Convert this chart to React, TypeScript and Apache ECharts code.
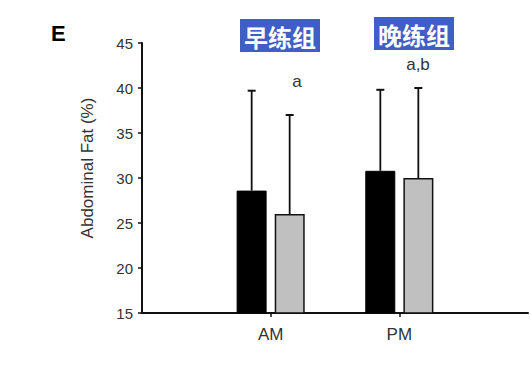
import React, { useEffect, useRef } from "react";
import * as echarts from "echarts";

const categories = ["AM", "PM"];
const amGroupMeans = [28.6, 30.8]; // black bars
const pmGroupMeans = [26.0, 30.0]; // gray bars
const amGroupErr = [11.1, 9.0];
const pmGroupErr = [11.0, 10.0];
const yTicks = [15, 20, 25, 30, 35, 40, 45];
const sigLabels = ["a", "a,b"];

const FONT = "'Liberation Sans', Arial, sans-serif";

export default function App() {
  const ref = useRef<HTMLDivElement>(null);
  useEffect(() => {
    if (!ref.current) return;
    const chart = echarts.init(ref.current, undefined, { renderer: "svg" });
    const axisCats = ["", ...categories, ""];
    const pad = (arr: number[]) => ["-", ...arr, "-"];
    const OFFSET = 19;
    const errSeries = (means: number[], errs: number[], dx: number) => ({
      type: "custom",
      z: 5,
      data: means.map((m, i) => [i + 1, m, m + errs[i]]),
      renderItem: (params: any, api: any) => {
        const x = api.value(0);
        const lo = api.coord([x, api.value(1)]);
        const hi = api.coord([x, api.value(2)]);
        const cx = lo[0] + dx;
        return {
          type: "group",
          children: [
            { type: "line", shape: { x1: cx, y1: lo[1], x2: cx, y2: hi[1] }, style: { stroke: "#111", lineWidth: 1.8 } },
            { type: "line", shape: { x1: cx - 4, y1: hi[1], x2: cx + 4, y2: hi[1] }, style: { stroke: "#111", lineWidth: 2 } },
          ],
        };
      },
    });
    chart.setOption({
      animation: false,
      backgroundColor: "#fff",
      grid: { left: 142, right: 0, top: 43, bottom: 52, containLabel: false },
      xAxis: {
        type: "category",
        data: axisCats,
        boundaryGap: false,
        axisLine: { lineStyle: { color: "#111", width: 2 } },
        axisTick: { length: 4, interval: (i: number) => i === 1 || i === 2, lineStyle: { color: "#111", width: 1.5 } },
        axisLabel: { interval: 0, margin: 13, fontSize: 17, color: "#333", fontFamily: FONT },
        splitLine: { show: false },
      },
      yAxis: {
        type: "value",
        min: yTicks[0],
        max: yTicks[yTicks.length - 1],
        interval: 5,
        axisLine: { show: true, lineStyle: { color: "#111", width: 2 } },
        axisTick: { show: true, length: 4, lineStyle: { color: "#111", width: 1.5 } },
        axisLabel: { margin: 9, fontSize: 15, color: "#333", fontFamily: FONT },
        splitLine: { show: false },
      },
      series: [
        {
          type: "bar",
          data: pad(amGroupMeans),
          barWidth: 30,
          barGap: "27%",
          itemStyle: { color: "#000", borderColor: "#000", borderWidth: 1 },
          z: 3,
        },
        {
          type: "bar",
          data: pad(pmGroupMeans),
          barWidth: 30,
          itemStyle: { color: "#c0c0c0", borderColor: "#111", borderWidth: 1.5 },
          z: 3,
        },
        errSeries(amGroupMeans, amGroupErr, -OFFSET),
        errSeries(pmGroupMeans, pmGroupErr, OFFSET),
      ],
      graphic: [
        { type: "text", left: 51, top: 22, style: { text: "E", fontSize: 22, fontWeight: "bold", fill: "#000", fontFamily: FONT } },
        {
          type: "text",
          x: 87,
          y: 168,
          rotation: Math.PI / 2,
          style: { text: "Abdominal Fat (%)", fontSize: 17, fill: "#333", fontFamily: FONT, align: "center", verticalAlign: "middle" },
        },
        { type: "rect", shape: { x: 240, y: 19, width: 80, height: 33 }, style: { fill: "#3f5ec6" } },
        { type: "text", x: 280, y: 36, style: { text: "早练组", fontSize: 24, fontWeight: "bold", fill: "#fff", fontFamily: "'Noto Sans CJK SC', sans-serif", align: "center", verticalAlign: "middle" } },
        { type: "rect", shape: { x: 374, y: 17, width: 80, height: 33 }, style: { fill: "#3f5ec6" } },
        { type: "text", x: 414, y: 34, style: { text: "晚练组", fontSize: 24, fontWeight: "bold", fill: "#fff", fontFamily: "'Noto Sans CJK SC', sans-serif", align: "center", verticalAlign: "middle" } },
        { type: "text", x: 297, y: 81, style: { text: sigLabels[0], fontSize: 17, fill: "#333", fontFamily: FONT, align: "center", verticalAlign: "middle" } },
        { type: "text", x: 418, y: 64, style: { text: sigLabels[1], fontSize: 17, fill: "#333", fontFamily: FONT, align: "center", verticalAlign: "middle" } },
      ],
    });
    return () => chart.dispose();
  }, []);
  return <div ref={ref} style={{ width: 531, height: 365, position: "absolute", left: 0, top: 0 }} />;
}
